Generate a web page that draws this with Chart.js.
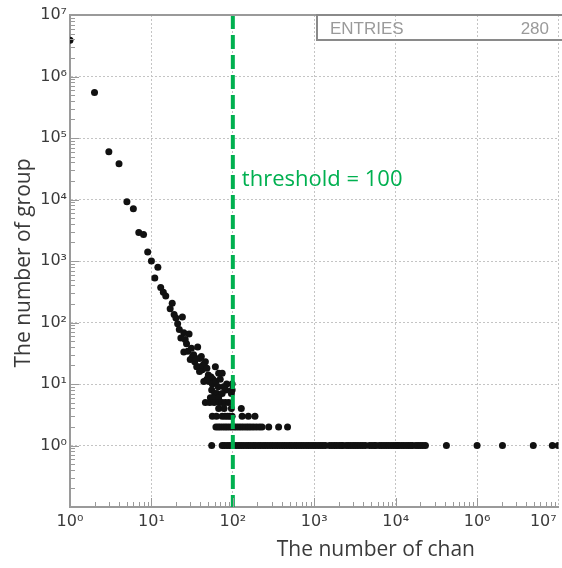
<!DOCTYPE html>
<html>
<head>
<meta charset="utf-8">
<script src="https://cdn.jsdelivr.net/npm/chart.js@4.4.1/dist/chart.umd.min.js"></script>
<style>
  html, body { margin: 0; padding: 0; background: #fff; }
  canvas { display: block; }
</style>
</head>
<body>
<canvas id="chart" width="562" height="568"></canvas>
<script>
// channels per group (x) and number of groups (y)
const headChan = [1, 2, 3, 4, 5, 6, 7, 8, 9, 10, 11, 12, 13, 14,
  15, 18, 17, 19, 20, 24, 21, 22, 25, 29,
  23, 26, 37, 28, 25, 32, 41, 30, 39, 46,
  34, 44, 38, 36, 42, 39, 61, 67, 74,
  27, 31, 33, 35, 43, 48, 50, 54, 57];
const headCount = [3900000, 550000, 60000, 38000, 9200, 7100, 2900, 2700, 1400, 1000, 530, 790, 370, 310,
  270, 205, 168, 135, 118, 123, 95, 77, 68, 65,
  56, 53, 40, 34, 33, 28, 28, 25, 26, 23,
  23, 21, 19, 19, 17, 16, 19, 15, 15,
  45, 38, 30, 26, 20, 18, 14, 13, 12];

const lowChan = [44, 51, 56, 84, 98, 55, 82, 98, 60, 64, 74, 96, 53, 57, 67, 46, 52, 59, 68, 74, 81, 89,
  48, 62, 70, 66, 77];
const lowCount = [11, 11, 10, 10, 10, 8, 8, 8, 7, 7, 7, 7, 6, 6, 6, 5, 5, 5, 5, 5, 5, 5,
  12, 11, 12, 9, 9];

// rows of groups with a small count
const row4Chan = [67, 78, 96, 127];
const row3Chan = [56, 63, 74, 80, 86, 92, 98, 130, 155, 187];
const row2Chan = [62, 66, 70, 75, 80, 85, 91, 97, 104, 111, 119, 127, 136, 146, 156, 167, 180, 195, 212, 228, 276, 365, 470];
const row1Chan = [55, 74, 79, 85, 91, 97, 104, 111, 119, 127, 136, 146, 156, 167, 179, 191, 205, 219, 235, 251,
  269, 288, 308, 330, 353, 378, 404, 433, 463, 496, 530, 568, 607, 650, 696, 745, 797, 853, 913, 977,
  1045, 1120, 1200, 1280, 1370, 1540, 1650, 1770, 1890, 2030, 2170, 2240, 2460, 2630, 2820, 3020, 3230,
  3450, 3700, 3960, 4250, 4770, 5100, 5460, 5710, 6280, 6720, 7190, 7700, 8240, 8820, 9440, 10100, 10500,
  11000, 11800, 12600, 13500, 14400, 15400, 16100, 17700, 18900, 20200, 21600, 23200,
  42000, 100000, 205000, 490000, 840000, 990000];
const rowCounts = [4, 3, 2, 1];
const rowChans = [row4Chan, row3Chan, row2Chan, row1Chan];

const threshold = 100;
const entries = 280;

// axis ticks as printed on the reference
const xTickValues = [1, 10, 100, 1000, 10000, 100000, 650000, 1000000];
const xTickLabels = ["10\u2070", "10\u00b9", "10\u00b2", "10\u00b3", "10\u2074", "10\u2076", "10\u2077", ""];
const xGridless = 650000;
const yTickValues = [1, 10, 100, 1000, 10000, 100000, 1000000, 10000000];
const yTickLabels = ["10\u2070", "10\u00b9", "10\u00b2", "10\u00b3", "10\u2074", "10\u2075", "10\u2076", "10\u2077"];

const points = headChan.map((c, i) => ({ x: c, y: headCount[i] }));
lowChan.forEach((c, i) => points.push({ x: c, y: lowCount[i] }));
rowChans.forEach((list, r) => list.forEach(c => points.push({ x: c, y: rowCounts[r] })));

const green = "#00B050";
const gridColor = "#c4c4c4";
const axisColor = "#9a9a9a";
const tickFont = { family: "DejaVu Sans", size: 16 };

const decorations = {
  id: "decorations",
  afterDraw(chart) {
    const { ctx, chartArea: a, scales: { x, y } } = chart;
    ctx.save();
    // tick marks inside the frame
    ctx.strokeStyle = axisColor;
    ctx.lineWidth = 1;
    for (let e = -1; e < 7; e++) {
      for (let d = 1; d < 10; d++) {
        const py = Math.round(y.getPixelForValue(d * Math.pow(10, e))) + 0.5;
        if (py < a.top || py > a.bottom) continue;
        ctx.beginPath();
        ctx.moveTo(a.left, py);
        ctx.lineTo(a.left + (d === 1 ? 9 : 5), py);
        ctx.stroke();
      }
    }
    for (let e = 0; e < 6; e++) {
      for (let d = 1; d < 10; d++) {
        const px = Math.round(x.getPixelForValue(d * Math.pow(10, e))) + 0.5;
        if (px < a.left || px > a.right) continue;
        ctx.beginPath();
        ctx.moveTo(px, a.bottom);
        ctx.lineTo(px, a.bottom - (d === 1 ? 9 : 5));
        ctx.stroke();
      }
    }
    // top frame line
    ctx.lineWidth = 2;
    ctx.beginPath();
    ctx.moveTo(a.left, a.top);
    ctx.lineTo(a.right, a.top);
    ctx.stroke();

    // entries box
    ctx.strokeStyle = "#8a8a8a";
    ctx.strokeRect(317, a.top, 260, 25);
    ctx.fillStyle = "#9a9a9a";
    ctx.font = "17px 'Liberation Sans'";
    ctx.textBaseline = "alphabetic";
    ctx.textAlign = "left";
    ctx.fillText("ENTRIES", 330, 34);
    ctx.textAlign = "right";
    ctx.fillText(String(entries), 549, 34);

    // threshold label
    ctx.fillStyle = green;
    ctx.font = "22px 'Open Sans'";
    ctx.textAlign = "left";
    ctx.fillText("threshold = " + threshold, x.getPixelForValue(threshold) + 9, 186);

    // axis titles
    ctx.fillStyle = "#3a3a3a";
    ctx.font = "21px 'Open Sans'";
    ctx.textAlign = "right";
    ctx.fillText("The number of chan", 475, 556);
    ctx.translate(30, 263);
    ctx.rotate(-Math.PI / 2);
    ctx.textAlign = "center";
    ctx.fillText("The number of group", 0, 0);
    ctx.restore();
  }
};

const ctx = document.getElementById("chart").getContext("2d");
const myChart = new Chart(ctx, {
  type: "scatter",
  data: {
    datasets: [
      {
        type: "line",
        data: [{ x: threshold, y: 10000000 }, { x: threshold, y: 0.1 }],
        borderColor: green,
        borderWidth: 4,
        borderDash: [14, 6],
        pointRadius: 0,
        fill: false,
      },
      {
        data: points,
        backgroundColor: "#111",
        borderWidth: 0,
        pointRadius: 3.5,
        pointHoverRadius: 3.5,
      },
    ],
  },
  options: {
    responsive: false,
    animation: false,
    events: [],
    layout: { padding: { top: 15, right: 0, left: 0, bottom: 0 } },
    plugins: { legend: { display: false }, tooltip: { enabled: false } },
    scales: {
      x: {
        type: "logarithmic",
        min: 1,
        max: 1000000,
        afterBuildTicks: (scale) => {
          scale.ticks = xTickValues.map((v) => ({ value: v }));
        },
        afterFit: (scale) => {
          // plot runs right to the edge of the canvas
          scale.height = 61;
          scale.paddingRight = 0;
        },
        ticks: {
          autoSkip: false,
          maxRotation: 0,
          padding: 5,
          color: "#3a3a3a",
          font: tickFont,
          callback: (v, i) => xTickLabels[i],
        },
        grid: {
          drawTicks: false,
          color: (c) => (c.tick && c.tick.value === xGridless ? "rgba(0,0,0,0)" : gridColor),
        },
        border: { display: true, color: axisColor, width: 2, dash: [2, 2] },
      },
      y: {
        type: "logarithmic",
        min: 0.1,
        max: 10000000,
        afterBuildTicks: (scale) => {
          scale.ticks = yTickValues.map((v) => ({ value: v }));
        },
        afterFit: (scale) => {
          scale.width = 70;
        },
        ticks: {
          autoSkip: false,
          padding: 3,
          color: "#3a3a3a",
          font: tickFont,
          callback: (v, i) => yTickLabels[i],
        },
        grid: { drawTicks: false, color: gridColor },
        border: { display: true, color: axisColor, width: 2, dash: [2, 2] },
      },
    },
  },
  plugins: [decorations],
});
</script>
</body>
</html>
